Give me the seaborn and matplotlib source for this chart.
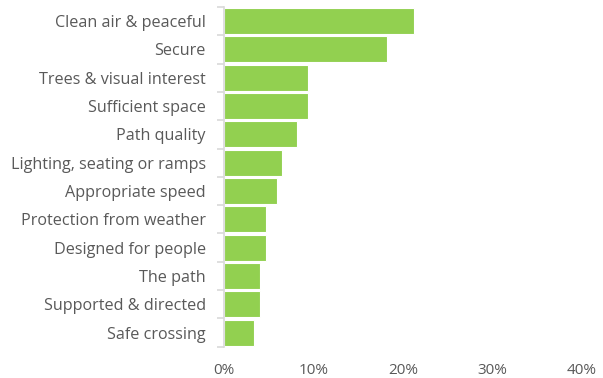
import matplotlib
matplotlib.use("Agg")
import matplotlib.pyplot as plt
import seaborn as sns
import pandas as pd
import numpy as np
from matplotlib.ticker import FixedLocator, PercentFormatter

categories = [
    "Clean air & peaceful",
    "Secure",
    "Trees & visual interest",
    "Sufficient space",
    "Path quality",
    "Lighting, seating or ramps",
    "Appropriate speed",
    "Protection from weather",
    "Designed for people",
    "The path",
    "Supported & directed",
    "Safe crossing",
]
shares = [21.2, 18.2, 9.4, 9.4, 8.2, 6.5, 5.9, 4.7, 4.7, 4.05, 4.05, 3.4]
x_ticks = [0, 10, 20, 30, 40]

df = pd.DataFrame({"category": categories, "share": shares})

sns.set_theme(style="white")
plt.rcParams["font.family"] = ["Open Sans", "DejaVu Sans"]

fig = plt.figure(figsize=(6.03, 3.78), dpi=100)
ax = fig.add_axes([0.3715, 0.0828, 0.5935, 0.8987])

sns.barplot(data=df, x="share", y="category", orient="h", color="#92D050",
            saturation=1, width=0.92, edgecolor="white", linewidth=0.8, ax=ax)

ax.set_xlim(0, 40)
ax.set_ylim(len(categories) - 0.5, -0.5)
ax.xaxis.set_major_locator(FixedLocator(x_ticks))
ax.xaxis.set_major_formatter(PercentFormatter(decimals=0))
ax.set_xlabel("")
ax.set_ylabel("")

for s in ["top", "right", "bottom"]:
    ax.spines[s].set_visible(False)
ax.spines["left"].set_color("#d9d9d9")
ax.spines["left"].set_linewidth(1.2)

txt = "#595959"
ax.tick_params(axis="x", length=0, pad=12, labelsize=11, labelcolor=txt)
ax.tick_params(axis="y", which="major", length=0, pad=13, labelsize=11.6, labelcolor=txt)
ax.yaxis.set_minor_locator(FixedLocator(np.arange(-0.5, len(categories), 1.0)))
ax.tick_params(axis="y", which="minor", length=5, width=1.2, color="#d9d9d9", left=True)

fig.savefig("out.png", dpi=100, facecolor="white")
